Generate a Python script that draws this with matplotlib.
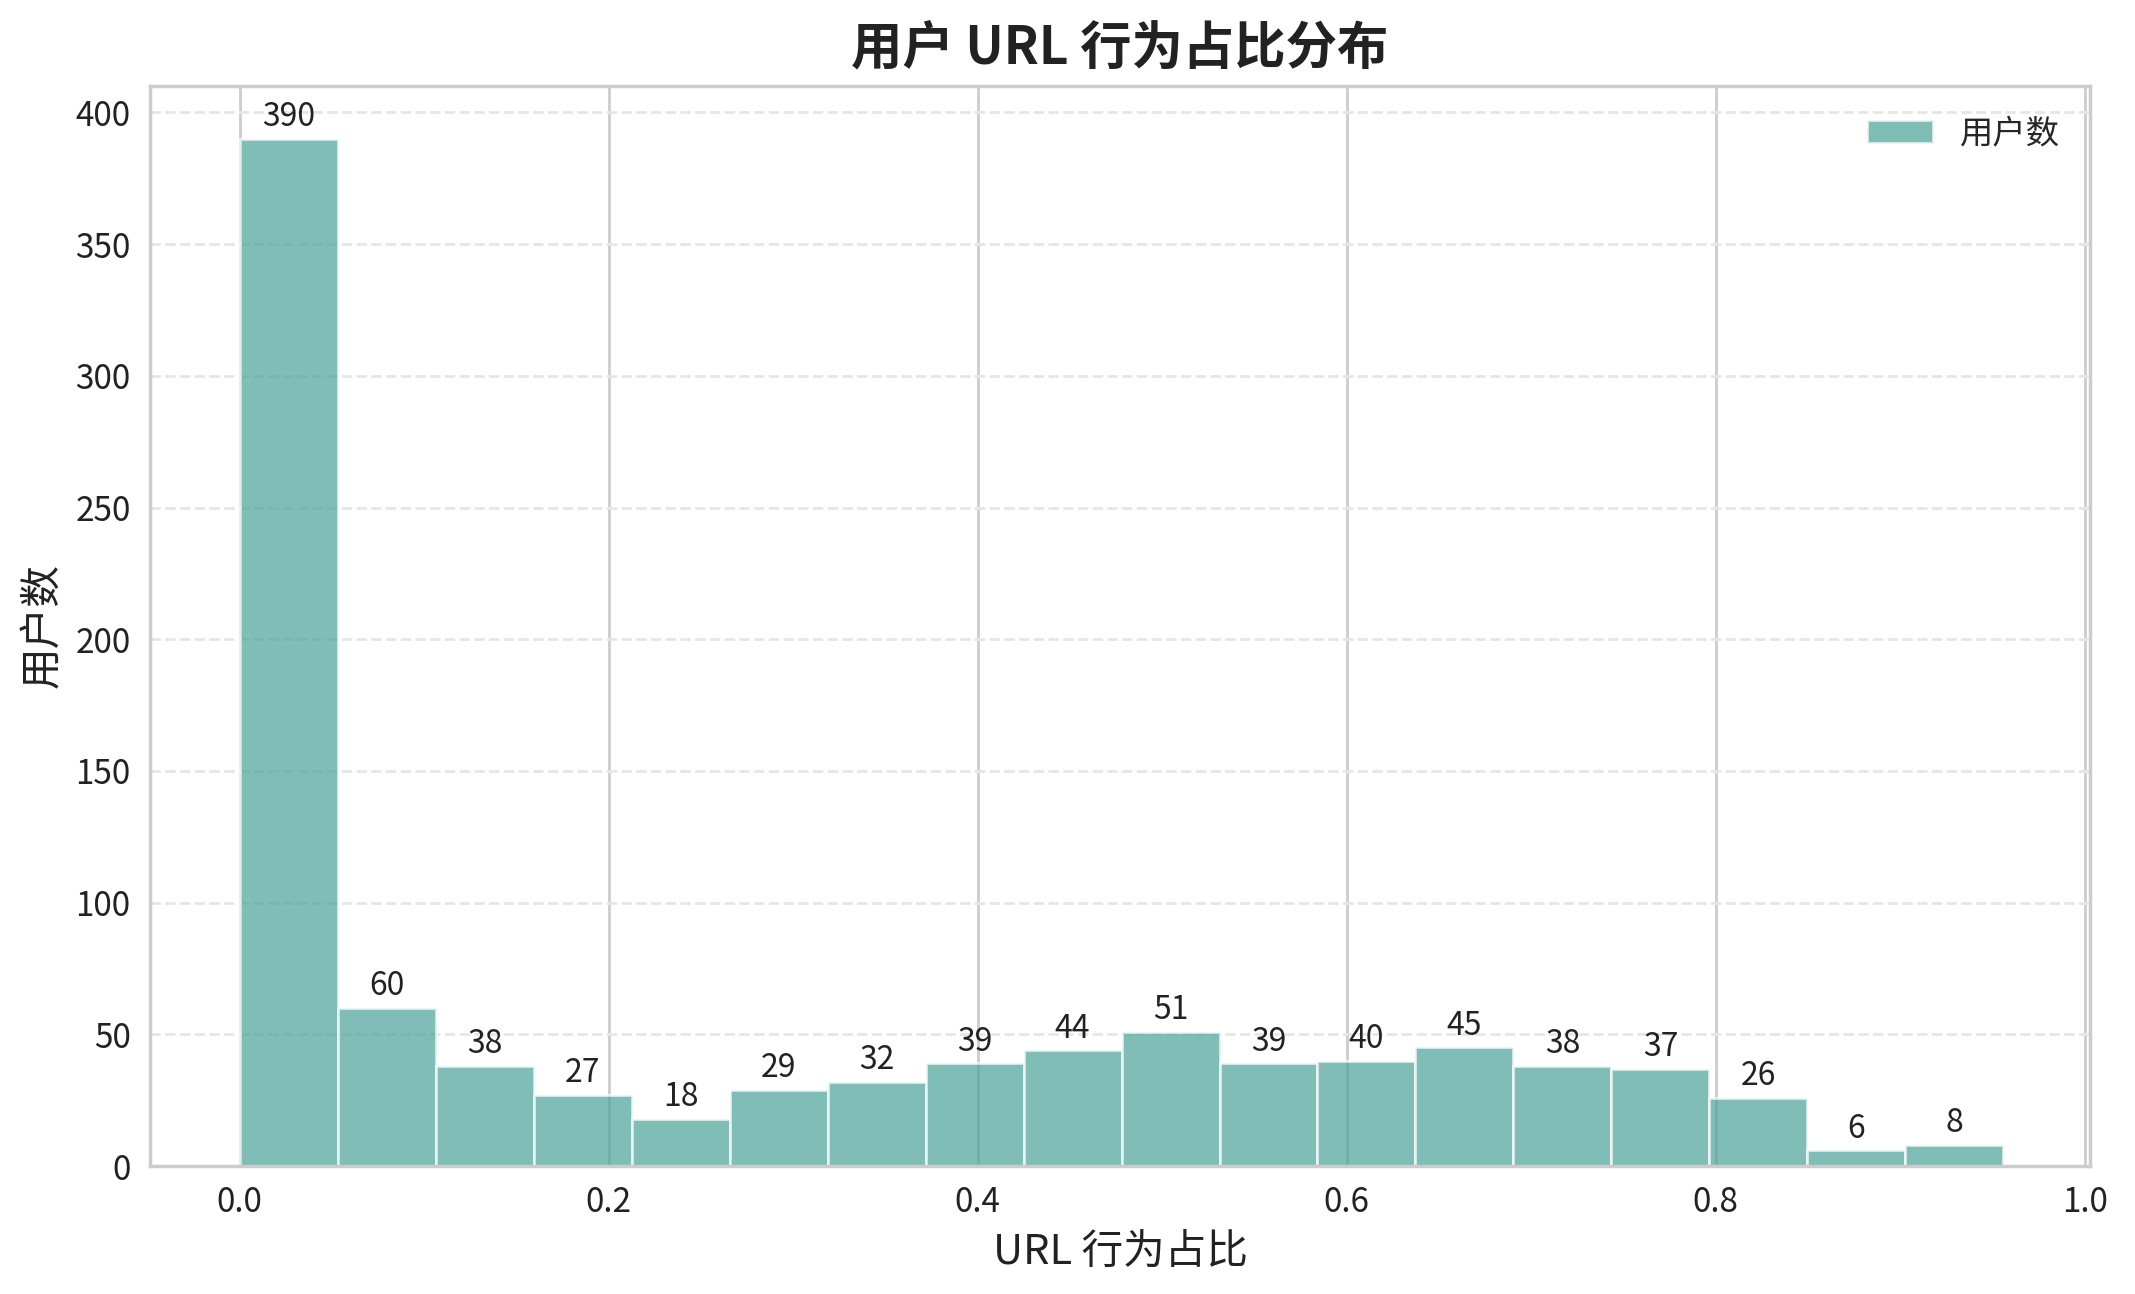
import numpy as np
import matplotlib
matplotlib.use("Agg")
import matplotlib.pyplot as plt
import seaborn as sns

# histogram counts (18 bins over 0 .. ~0.956)
counts = [390, 60, 38, 27, 18, 29, 32, 39, 44, 51, 39, 40, 45, 38, 37, 26, 6, 8]
x_max = 0.956
x_ticks = [0.0, 0.2, 0.4, 0.6, 0.8, 1.0]

sns.set_style("whitegrid")
plt.rcParams['font.family'] = ['Noto Sans CJK SC', 'DejaVu Sans']
plt.rcParams['axes.unicode_minus'] = False

edges = np.linspace(0, x_max, len(counts) + 1)
widths = np.diff(edges)

fig, ax = plt.subplots(figsize=(10.675, 6.47), dpi=200)
fig.subplots_adjust(left=0.0703, right=0.979, top=0.9335, bottom=0.0989)
bars = ax.bar(edges[:-1], counts, width=widths, align='edge',
              color='#4aa298', alpha=0.7, edgecolor='white', linewidth=1.0,
              label='用户数', zorder=2)
ax.bar_label(bars, labels=[str(c) for c in counts], padding=2, fontsize=11.5, color='#222222')

ax.set_xlim(-0.0485, 1.003)
ax.set_ylim(0, 410)
ax.set_xticks(x_ticks)
ax.set_xticklabels([f"{t:.1f}" for t in x_ticks])

ax.grid(axis='x', color='#cccccc', linewidth=1.0, linestyle='-')
ax.grid(axis='y', color='#e6e6e6', linewidth=1.0, linestyle='--')
ax.set_axisbelow(True)
for s in ax.spines.values():
    s.set_color('#cccccc')
    s.set_linewidth(1.25)

ax.tick_params(axis='both', labelsize=12, colors='#222222')
ax.set_xlabel('URL 行为占比', fontsize=15, color='#222222')
ax.set_ylabel('用户数', fontsize=15, color='#222222')
ax.set_title('用户 URL 行为占比分布', fontsize=18.5, fontweight='bold', color='#222222', pad=8)
ax.legend(loc='upper right', frameon=False, fontsize=12)

plt.savefig('out.png', dpi=200)
